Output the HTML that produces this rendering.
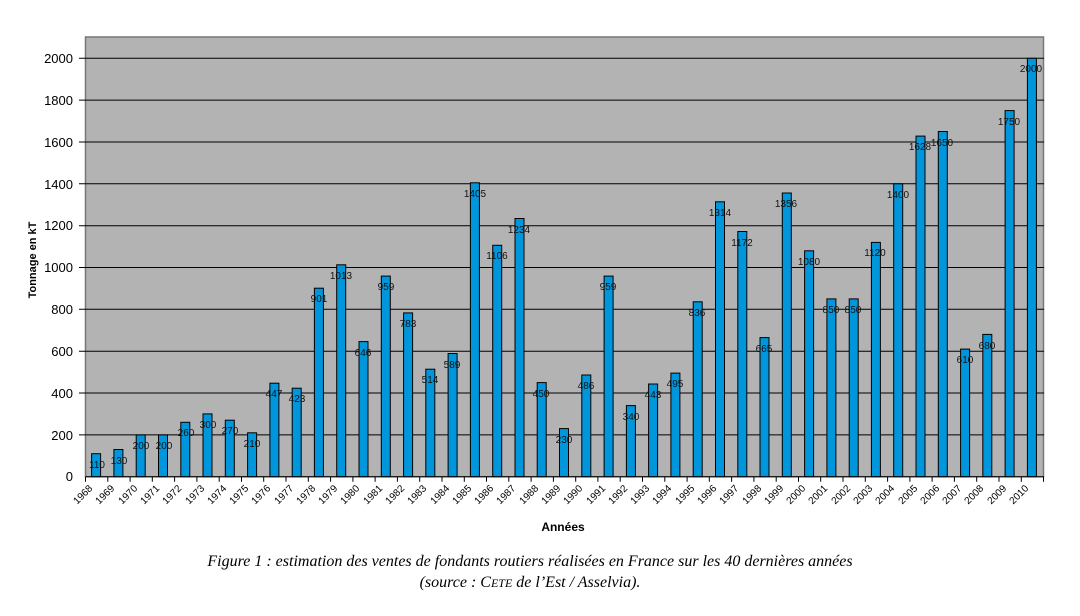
<!DOCTYPE html>
<html><head><meta charset="utf-8"><style>
html,body{margin:0;padding:0;background:#fff;}
svg{display:block;}
.v{font:10px "Liberation Sans",sans-serif;fill:#111;text-anchor:middle;}
.yt{font:13px "Liberation Sans",sans-serif;fill:#000;text-anchor:end;}
.xt{font:10px "Liberation Sans",sans-serif;fill:#000;text-anchor:end;}
.cap{font:italic 16px "Liberation Serif",serif;fill:#000;text-anchor:middle;}
</style></head><body>
<svg width="1080" height="616" xmlns="http://www.w3.org/2000/svg">
<rect x="85.5" y="37" width="958" height="439.7" fill="#b3b3b3" stroke="#777" stroke-width="1.5"/>
<g stroke="#000" stroke-width="1">
<line x1="79" x2="1044" y1="58.3" y2="58.3"/><line x1="79" x2="1044" y1="100.1" y2="100.1"/><line x1="79" x2="1044" y1="142" y2="142"/><line x1="79" x2="1044" y1="183.8" y2="183.8"/><line x1="79" x2="1044" y1="225.7" y2="225.7"/><line x1="79" x2="1044" y1="267.5" y2="267.5"/><line x1="79" x2="1044" y1="309.3" y2="309.3"/><line x1="79" x2="1044" y1="351.2" y2="351.2"/><line x1="79" x2="1044" y1="393" y2="393"/><line x1="79" x2="1044" y1="434.9" y2="434.9"/>
</g>
<g class="yt">
<text x="73" y="63">2000</text><text x="73" y="105">1800</text><text x="73" y="147">1600</text><text x="73" y="189">1400</text><text x="73" y="230">1200</text><text x="73" y="272">1000</text><text x="73" y="314">800</text><text x="73" y="356">600</text><text x="73" y="398">400</text><text x="73" y="440">200</text><text x="73" y="481">0</text>
</g>
<text transform="translate(36,260) rotate(-90)" style="font:bold 11px 'Liberation Sans',sans-serif;text-anchor:middle">Tonnage en  kT</text>
<g fill="#0096db" stroke="#000" stroke-width="1">
<rect x="91.6" y="453.7" width="9" height="23"/>
<rect x="113.9" y="449.5" width="9" height="27.2"/>
<rect x="136.2" y="434.9" width="9" height="41.8"/>
<rect x="158.5" y="434.9" width="9" height="41.8"/>
<rect x="180.8" y="422.3" width="9" height="54.4"/>
<rect x="203" y="413.9" width="9" height="62.8"/>
<rect x="225.3" y="420.2" width="9" height="56.5"/>
<rect x="247.6" y="432.8" width="9" height="43.9"/>
<rect x="269.9" y="383.2" width="9" height="93.5"/>
<rect x="292.2" y="388.2" width="9" height="88.5"/>
<rect x="314.4" y="288.2" width="9" height="188.5"/>
<rect x="336.7" y="264.8" width="9" height="211.9"/>
<rect x="359" y="341.6" width="9" height="135.1"/>
<rect x="381.3" y="276.1" width="9" height="200.6"/>
<rect x="403.6" y="312.9" width="9" height="163.8"/>
<rect x="425.8" y="369.2" width="9" height="107.5"/>
<rect x="448.1" y="353.5" width="9" height="123.2"/>
<rect x="470.4" y="182.8" width="9" height="293.9"/>
<rect x="492.7" y="245.3" width="9" height="231.4"/>
<rect x="515" y="218.5" width="9" height="258.2"/>
<rect x="537.2" y="382.6" width="9" height="94.1"/>
<rect x="559.5" y="428.6" width="9" height="48.1"/>
<rect x="581.8" y="375" width="9" height="101.7"/>
<rect x="604.1" y="276.1" width="9" height="200.6"/>
<rect x="626.4" y="405.6" width="9" height="71.1"/>
<rect x="648.6" y="384" width="9" height="92.7"/>
<rect x="670.9" y="373.1" width="9" height="103.6"/>
<rect x="693.2" y="301.8" width="9" height="174.9"/>
<rect x="715.5" y="201.8" width="9" height="274.9"/>
<rect x="737.8" y="231.5" width="9" height="245.2"/>
<rect x="760" y="337.6" width="9" height="139.1"/>
<rect x="782.3" y="193" width="9" height="283.7"/>
<rect x="804.6" y="250.8" width="9" height="225.9"/>
<rect x="826.9" y="298.9" width="9" height="177.8"/>
<rect x="849.2" y="298.9" width="9" height="177.8"/>
<rect x="871.4" y="242.4" width="9" height="234.3"/>
<rect x="893.7" y="183.8" width="9" height="292.9"/>
<rect x="916" y="136.1" width="9" height="340.6"/>
<rect x="938.3" y="131.5" width="9" height="345.2"/>
<rect x="960.6" y="349.1" width="9" height="127.6"/>
<rect x="982.8" y="334.4" width="9" height="142.3"/>
<rect x="1005.1" y="110.6" width="9" height="366.1"/>
<rect x="1027.4" y="58.3" width="9" height="418.4"/>
</g>
<g class="v">
<text x="97" y="468">110</text><text x="119" y="464">130</text><text x="141" y="449">200</text><text x="164" y="449">200</text><text x="186" y="436">260</text><text x="208" y="428">300</text><text x="230" y="434">270</text><text x="252" y="447">210</text><text x="274" y="397">447</text><text x="297" y="402">423</text><text x="319" y="302">901</text><text x="341" y="279">1013</text><text x="363" y="356">646</text><text x="386" y="290">959</text><text x="408" y="327">783</text><text x="430" y="383">514</text><text x="452" y="368">589</text><text x="475" y="197">1405</text><text x="497" y="259">1106</text><text x="519" y="233">1234</text><text x="541" y="397">450</text><text x="564" y="443">230</text><text x="586" y="389">486</text><text x="608" y="290">959</text><text x="631" y="420">340</text><text x="653" y="398">443</text><text x="675" y="387">495</text><text x="697" y="316">836</text><text x="720" y="216">1314</text><text x="742" y="246">1172</text><text x="764" y="352">665</text><text x="786" y="207">1356</text><text x="809" y="265">1080</text><text x="831" y="313">850</text><text x="853" y="313">850</text><text x="875" y="256">1120</text><text x="898" y="198">1400</text><text x="920" y="150">1628</text><text x="942" y="146">1650</text><text x="965" y="363">610</text><text x="987" y="349">680</text><text x="1009" y="125">1750</text><text x="1031" y="72">2000</text>
</g>
<line x1="85.5" y1="476.7" x2="1044" y2="476.7" stroke="#000"/>
<path stroke="#000" stroke-width="1" d="M85.5 476.7v5M107.8 476.7v5M130.1 476.7v5M152.3 476.7v5M174.6 476.7v5M196.9 476.7v5M219.2 476.7v5M241.5 476.7v5M263.7 476.7v5M286 476.7v5M308.3 476.7v5M330.6 476.7v5M352.9 476.7v5M375.1 476.7v5M397.4 476.7v5M419.7 476.7v5M442 476.7v5M464.3 476.7v5M486.5 476.7v5M508.8 476.7v5M531.1 476.7v5M553.4 476.7v5M575.7 476.7v5M597.9 476.7v5M620.2 476.7v5M642.5 476.7v5M664.8 476.7v5M687.1 476.7v5M709.3 476.7v5M731.6 476.7v5M753.9 476.7v5M776.2 476.7v5M798.5 476.7v5M820.7 476.7v5M843 476.7v5M865.3 476.7v5M887.6 476.7v5M909.9 476.7v5M932.1 476.7v5M954.4 476.7v5M976.7 476.7v5M999 476.7v5M1021.3 476.7v5M1043.5 476.7v5"/>
<g class="xt">
<text transform="translate(93,489) rotate(-45)">1968</text><text transform="translate(115,489) rotate(-45)">1969</text><text transform="translate(138,489) rotate(-45)">1970</text><text transform="translate(160,489) rotate(-45)">1971</text><text transform="translate(182,489) rotate(-45)">1972</text><text transform="translate(205,489) rotate(-45)">1973</text><text transform="translate(227,489) rotate(-45)">1974</text><text transform="translate(249,489) rotate(-45)">1975</text><text transform="translate(271,489) rotate(-45)">1976</text><text transform="translate(294,489) rotate(-45)">1977</text><text transform="translate(316,489) rotate(-45)">1978</text><text transform="translate(338,489) rotate(-45)">1979</text><text transform="translate(360,489) rotate(-45)">1980</text><text transform="translate(383,489) rotate(-45)">1981</text><text transform="translate(405,489) rotate(-45)">1982</text><text transform="translate(427,489) rotate(-45)">1983</text><text transform="translate(450,489) rotate(-45)">1984</text><text transform="translate(472,489) rotate(-45)">1985</text><text transform="translate(494,489) rotate(-45)">1986</text><text transform="translate(516,489) rotate(-45)">1987</text><text transform="translate(539,489) rotate(-45)">1988</text><text transform="translate(561,489) rotate(-45)">1989</text><text transform="translate(583,489) rotate(-45)">1990</text><text transform="translate(606,489) rotate(-45)">1991</text><text transform="translate(628,489) rotate(-45)">1992</text><text transform="translate(650,489) rotate(-45)">1993</text><text transform="translate(672,489) rotate(-45)">1994</text><text transform="translate(695,489) rotate(-45)">1995</text><text transform="translate(717,489) rotate(-45)">1996</text><text transform="translate(739,489) rotate(-45)">1997</text><text transform="translate(762,489) rotate(-45)">1998</text><text transform="translate(784,489) rotate(-45)">1999</text><text transform="translate(806,489) rotate(-45)">2000</text><text transform="translate(828,489) rotate(-45)">2001</text><text transform="translate(851,489) rotate(-45)">2002</text><text transform="translate(873,489) rotate(-45)">2003</text><text transform="translate(895,489) rotate(-45)">2004</text><text transform="translate(918,489) rotate(-45)">2005</text><text transform="translate(940,489) rotate(-45)">2006</text><text transform="translate(962,489) rotate(-45)">2007</text><text transform="translate(984,489) rotate(-45)">2008</text><text transform="translate(1007,489) rotate(-45)">2009</text><text transform="translate(1029,489) rotate(-45)">2010</text>
</g>
<text x="563" y="531" style="font:bold 12px 'Liberation Sans',sans-serif;text-anchor:middle">Années</text>
<text x="530" y="566" class="cap">Figure 1 : estimation des ventes de fondants routiers réalisées en France sur les 40 dernières années</text>
<text x="530" y="587" class="cap">(source : C<tspan font-size="12">ETE</tspan> de l’Est / Asselvia).</text>
</svg>
</body></html>
